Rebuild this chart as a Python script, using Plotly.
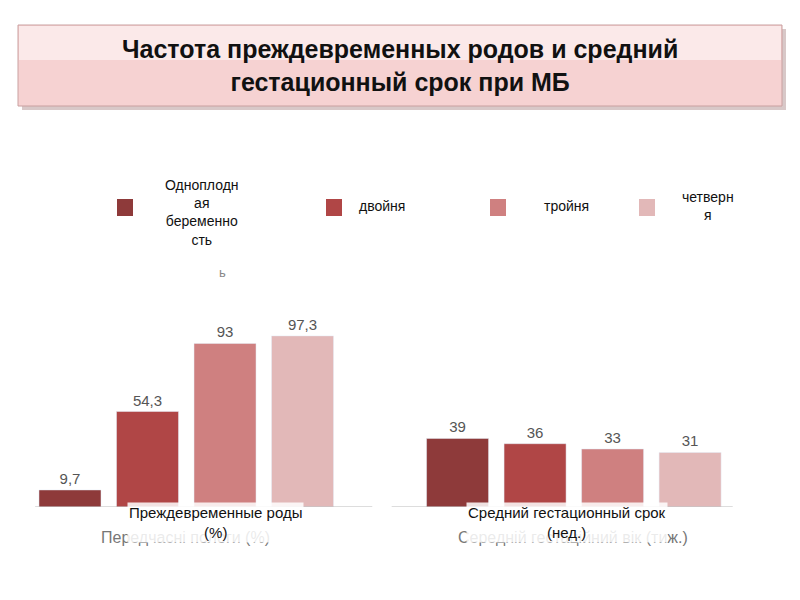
import plotly.graph_objects as go

# data
series_names = ["Одноплодная беременность", "двойня", "тройня", "четверня"]
legend_labels = ["Одноплодн<br>ая<br>беременно<br>сть", "двойня", "тройня", "четверн<br>я"]
colors = ["#8e3a3a", "#b04646", "#cf8080", "#e2b8b8"]
groups = ["Преждевременные роды<br>(%)", "Средний гестационный срок<br>(нед.)"]
ghost_groups = ["Передчасні пологи (%)", "Середній гестаційний вік (тиж.)"]
preterm = [9.7, 54.3, 93, 97.3]
gest_age = [39, 36, 33, 31]
preterm_text = ["9,7", "54,3", "93", "97,3"]
gest_text = ["39", "36", "33", "31"]

# plot area in reference pixels: x 20..780, y 150..507 (page body adds 8px offset)
L, R, T, B = 20, 780, 150, 507
OFF = 8


def px(x):
    return (x - L) / (R - L)


def py(y):
    return (B - y) / (B - T)


fig = go.Figure()
for i in range(4):
    fig.add_trace(go.Bar(
        x=[i, i + 5], y=[preterm[i], gest_age[i]],
        text=[preterm_text[i], gest_text[i]], textposition="outside",
        textfont=dict(size=15, color="#555555"),
        marker=dict(color=colors[i]), width=0.8, name=series_names[i],
        cliponaxis=False,
    ))

shapes = [
    # title box
    dict(type="rect", xref="paper", yref="paper", x0=px(22), x1=px(786), y0=py(110), y1=py(29),
         fillcolor="#d8c8c8", line=dict(width=0), layer="below"),
    dict(type="rect", xref="paper", yref="paper", x0=px(18), x1=px(782), y0=py(106), y1=py(25),
         fillcolor="#f6d2d2", line=dict(color="#c9a0a0", width=1), layer="below"),
    dict(type="rect", xref="paper", yref="paper", x0=px(19), x1=px(781), y0=py(60), y1=py(26),
         fillcolor="#fbe9e9", line=dict(width=0), layer="below"),
    # baselines
    dict(type="line", x0=-0.45, x1=3.9, y0=0, y1=0, line=dict(color="#bbbbbb", width=1)),
    dict(type="line", x0=4.15, x1=8.55, y0=0, y1=0, line=dict(color="#bbbbbb", width=1)),
]
legend_x = [125, 334, 498, 647]
legend_tx = [202, 382, 566, 708]
annotations = [
    dict(text="<b>Частота преждевременных родов и средний<br>гестационный срок при МБ</b>",
         xref="paper", yref="paper", x=0.5, y=py(66), showarrow=False,
         xanchor="center", yanchor="middle",
         font=dict(size=25, color="#111111", family="Liberation Sans"), align="center"),
    dict(text="ь", xref="paper", yref="paper", x=px(222), y=py(272), showarrow=False,
         xanchor="center", yanchor="middle", font=dict(size=13, color="#888888")),
]
for i in range(4):
    shapes.append(dict(type="rect", xref="paper", yref="paper",
                       x0=px(legend_x[i] - 8), x1=px(legend_x[i] + 8),
                       y0=py(216), y1=py(199), fillcolor=colors[i], line=dict(width=0)))
    annotations.append(dict(text=legend_labels[i], xref="paper", yref="paper",
                            x=px(legend_tx[i]), y=py(206 if i != 0 else 212), showarrow=False,
                            xanchor="center", yanchor="middle",
                            font=dict(size=14, color="#111111"), align="center"))
for cx, gx, g, gg in zip([215, 567], [185, 573], groups, ghost_groups):
    annotations.append(dict(text=gg, xref="paper", yref="paper", x=px(gx), y=py(537),
                            showarrow=False, xanchor="center", yanchor="middle",
                            font=dict(size=16, color="#777777")))
    annotations.append(dict(text=g, xref="paper", yref="paper", x=px(cx), y=py(522),
                            showarrow=False, xanchor="center", yanchor="middle",
                            font=dict(size=15, color="#111111"),
                            bgcolor="rgba(255,255,255,0.85)", align="center"))

fig.update_layout(
    width=800, height=600,
    margin=dict(l=L - OFF, r=800 - R + OFF, t=T - OFF, b=600 - B + OFF),
    plot_bgcolor="white", paper_bgcolor="white",
    showlegend=False, barmode="overlay",
    font=dict(family="Liberation Sans"),
    shapes=shapes, annotations=annotations,
    xaxis=dict(range=[-0.645, 9.16], visible=False),
    yaxis=dict(range=[0, 203], visible=False),
)

fig.write_html("out.html")
